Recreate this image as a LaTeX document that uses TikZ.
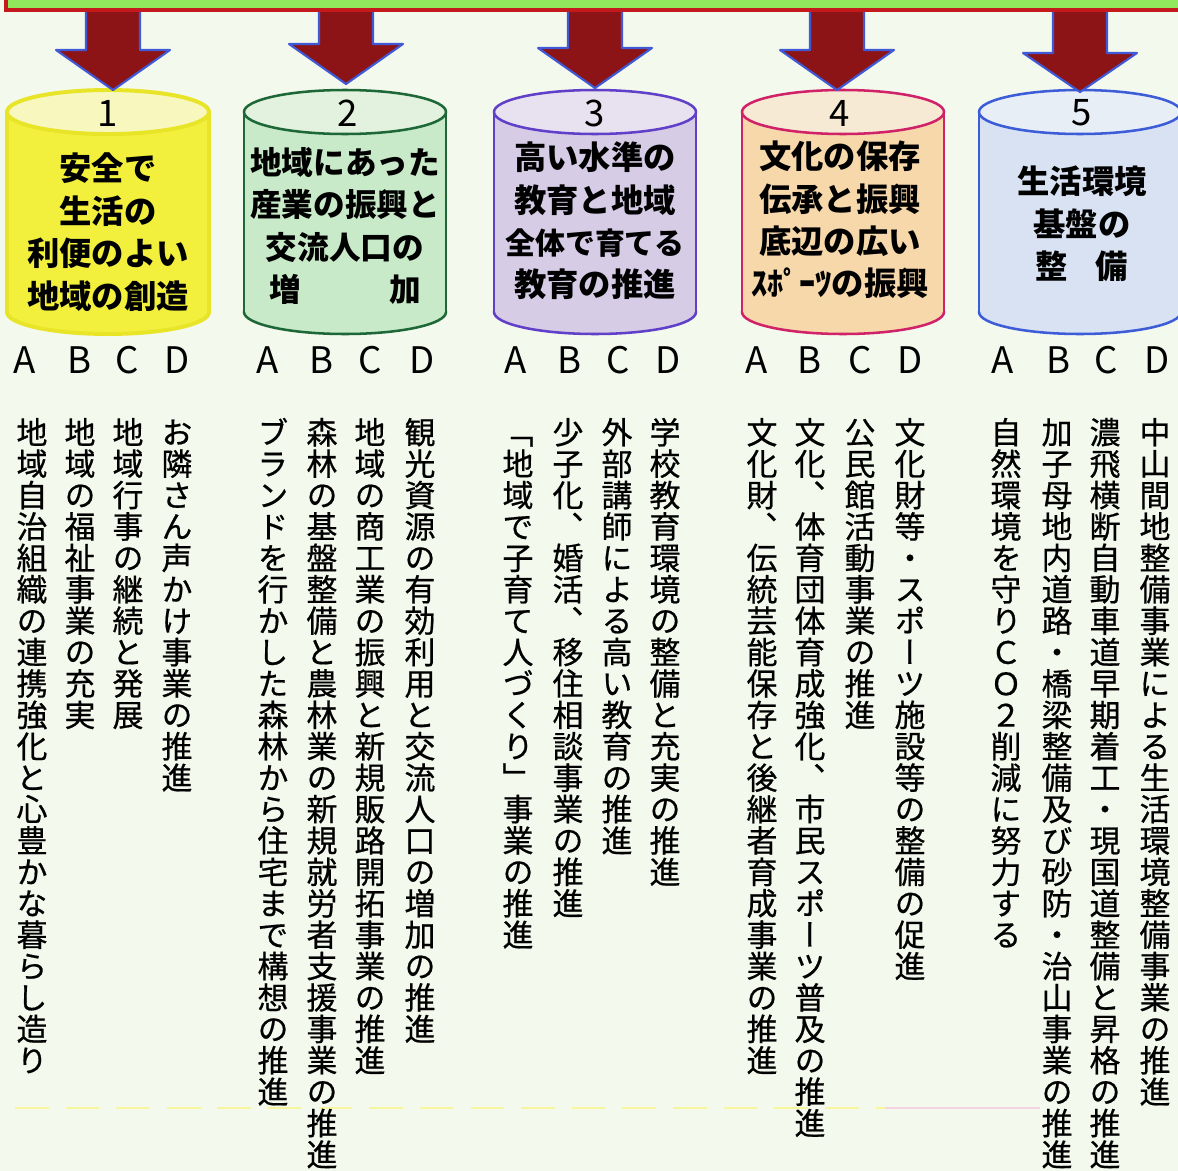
\documentclass[tikz,border=0pt]{standalone}
\usepackage{fontspec}
\setmainfont{Noto Sans CJK JP}
\newfontfamily\tatefont[RawFeature=+vert, FakeBold=0.6]{Noto Sans CJK JP}

\definecolor{paper}{RGB}{244,249,237}
\definecolor{bandgreen}{RGB}{146,232,92}
\definecolor{bandred}{RGB}{196,26,30}
\definecolor{arrowred}{RGB}{140,20,22}
\definecolor{arrowrim}{RGB}{64,90,215}
\definecolor{body1}{RGB}{242,240,60}
\definecolor{top1}{RGB}{248,247,190}
\definecolor{rim1}{RGB}{232,228,40}
\definecolor{body2}{RGB}{200,234,200}
\definecolor{top2}{RGB}{226,242,222}
\definecolor{rim2}{RGB}{30,104,56}
\definecolor{body3}{RGB}{214,204,230}
\definecolor{top3}{RGB}{232,226,240}
\definecolor{rim3}{RGB}{96,64,200}
\definecolor{body4}{RGB}{246,216,170}
\definecolor{top4}{RGB}{246,234,212}
\definecolor{rim4}{RGB}{208,34,104}
\definecolor{body5}{RGB}{216,226,242}
\definecolor{top5}{RGB}{232,238,246}
\definecolor{rim5}{RGB}{60,92,216}

% one character under the other
\ExplSyntaxOn
\NewDocumentCommand{\tate}{m}
 {
  \vtop
   {
    \lineskiplimit=-\maxdimen
    \tl_map_inline:nn {#1} { \hbox_to_wd:nn {1em} { \hss ##1 \hss } }
   }
 }
\ExplSyntaxOff

% drum: centre x, body colour, top colour, rim style
\newcommand{\drum}[4]{%
  \draw[#4, fill=#2] (#1,312) ellipse [x radius=101, y radius=22];
  \fill[#2] (#1-101,112) rectangle (#1+101,312);
  \draw[#4] (#1-101,112) -- (#1-101,312) (#1+101,112) -- (#1+101,312);
  \draw[#4, fill=#3] (#1,112) ellipse [x radius=101, y radius=22];
}

% block arrow: centre x, head top y, tip y
\newcommand{\downblock}[3]{%
  \filldraw[arrowred, draw=arrowrim, line width=1.5pt, line join=round]
    (#1-27,9) -- (#1-27,#2) -- (#1-57,#2) -- (#1,#3)
    -- (#1+57,#2) -- (#1+27,#2) -- (#1+27,9) -- cycle;
}

\begin{document}
\begin{tikzpicture}[x=0.025cm, y=-0.025cm,
  rim/.style={draw=#1, line width=1.8pt},
  numtext/.style={font=\fontsize{26}{26}\selectfont, inner sep=0pt},
  drumtext/.style={font=\bfseries\fontsize{23}{30.2}\selectfont, align=center, inner sep=0pt},
  letter/.style={font=\fontsize{26}{26}\selectfont, inner sep=0pt},
  vcol/.style={anchor=base, inner sep=0pt, font=\tatefont\fontsize{22}{22.33}\selectfont}]

\useasboundingbox (0,0) rectangle (1178,1171);
\fill[paper] (0,0) rectangle (1178,1171);

% Drums
\drum{108}{body1}{top1}{rim={rim1}, line width=2.8pt}
\drum{345}{body2}{top2}{rim={rim2}}
\drum{595}{body3}{top3}{rim={rim3}}
\drum{843}{body4}{top4}{rim={rim4}}
\drum{1080}{body5}{top5}{rim={rim5}}

% Arrows
\downblock{113}{50}{90}
\downblock{346}{44}{84}
\downblock{595}{48}{88}
\downblock{837}{50}{90}
\downblock{1080}{53}{92}

% Top band
\draw[bandred, line width=2.5pt, fill=bandgreen] (6,-30) rectangle (1200,10);

% faint rule near the foot
\draw[yellow!35!paper, line width=2pt, dash pattern=on 24pt off 12pt] (15,1108) -- (885,1108);
\draw[magenta!15!paper, line width=2pt] (885,1108) -- (1040,1108);

% Drum 1
\node[numtext] (num1) at (108,113) {1};
\node[drumtext] (title1) at (108,232) {安全で\\生活の\\利便のよい\\地域の創造};

% Drum 2
\node[numtext] (num2) at (348,113) {2};
\node[drumtext, font=\bfseries\fontsize{22.5}{30.2}\selectfont] (title2) at (345,226)
  {地域にあった\\産業の振興と\\交流人口の\\増\hspace{2.8em}加};

% Drum 3
\node[numtext] (num3) at (595,113) {3};
\node[drumtext] (title3) at (595,221)
  {高い水準の\\教育と地域\\{\fontsize{21.3}{30.2}\selectfont 全体で育てる}\\教育の推進};

% Drum 4
\node[numtext] (num4) at (840,113) {4};
\node[drumtext] (title4) at (840,220) {文化の保存\\伝承と振興\\底辺の広い\\ｽﾎﾟｰﾂの振興};

% Drum 5
\node[numtext] (num5) at (1082,113) {5};
\node[drumtext] (title5) at (1082,224) {生活環境\\基盤の\\整\hspace{0.85em}備};

% Letters
\node[letter] (l1a) at (25,360) {A};
\node[letter] (l1b) at (80,360) {B};
\node[letter] (l1c) at (127,360) {C};
\node[letter] (l1d) at (177,360) {D};
\node[letter] (l2a) at (268,360) {A};
\node[letter] (l2b) at (322,360) {B};
\node[letter] (l2c) at (370,360) {C};
\node[letter] (l2d) at (422,360) {D};
\node[letter] (l3a) at (516,360) {A};
\node[letter] (l3b) at (570,360) {B};
\node[letter] (l3c) at (618,360) {C};
\node[letter] (l3d) at (668,360) {D};
\node[letter] (l4a) at (757,360) {A};
\node[letter] (l4b) at (810,360) {B};
\node[letter] (l4c) at (860,360) {C};
\node[letter] (l4d) at (910,360) {D};
\node[letter] (l5a) at (1003,360) {A};
\node[letter] (l5b) at (1058,360) {B};
\node[letter] (l5c) at (1106,360) {C};
\node[letter] (l5d) at (1157,360) {D};

% Columns 1
\node[vcol] (c1a) at (32,444) {\tate{地域自治組織の連携強化と心豊かな暮らし造り}};
\node[vcol] (c1b) at (80,444) {\tate{地域の福祉事業の充実}};
\node[vcol] (c1c) at (128,444) {\tate{地域行事の継続と発展}};
\node[vcol] (c1d) at (177,444) {\tate{お隣さん声かけ事業の推進}};

% Columns 2
\node[vcol] (c2a) at (273,444) {\tate{ブランドを行かした森林から住宅まで構想の推進}};
\node[vcol] (c2b) at (322,444) {\tate{森林の基盤整備と農林業の新規就労者支援事業の推進}};
\node[vcol] (c2c) at (370,444) {\tate{地域の商工業の振興と新規販路開拓事業の推進}};
\node[vcol] (c2d) at (420,444) {\tate{観光資源の有効利用と交流人口の増加の推進}};

% Columns 3
\node[vcol] (c3a) at (518,444) {\tate{「地域で子育て人づくり」事業の推進}};
\node[vcol] (c3b) at (568,444) {\tate{少子化、婚活、移住相談事業の推進}};
\node[vcol] (c3c) at (617,444) {\tate{外部講師による高い教育の推進}};
\node[vcol] (c3d) at (665,444) {\tate{学校教育環境の整備と充実の推進}};

% Columns 4
\node[vcol] (c4a) at (762,444) {\tate{文化財、伝統芸能保存と後継者育成事業の推進}};
\node[vcol] (c4b) at (810,444) {\tate{文化、体育団体育成強化、市民スポーツ普及の推進}};
\node[vcol] (c4c) at (860,444) {\tate{公民館活動事業の推進}};
\node[vcol] (c4d) at (910,444) {\tate{文化財等・スポーツ施設等の整備の促進}};

% Columns 5
\node[vcol] (c5a) at (1006,444) {\tate{自然環境を守りＣＯ２削減に努力する}};
\node[vcol] (c5b) at (1057,444) {\tate{加子母地内道路・橋梁整備及び砂防・治山事業の推進}};
\node[vcol] (c5c) at (1105,444) {\tate{濃飛横断自動車道早期着工・現国道整備と昇格の推進}};
\node[vcol] (c5d) at (1155,444) {\tate{中山間地整備事業による生活環境整備事業の推進}};

\end{tikzpicture}
\end{document}
